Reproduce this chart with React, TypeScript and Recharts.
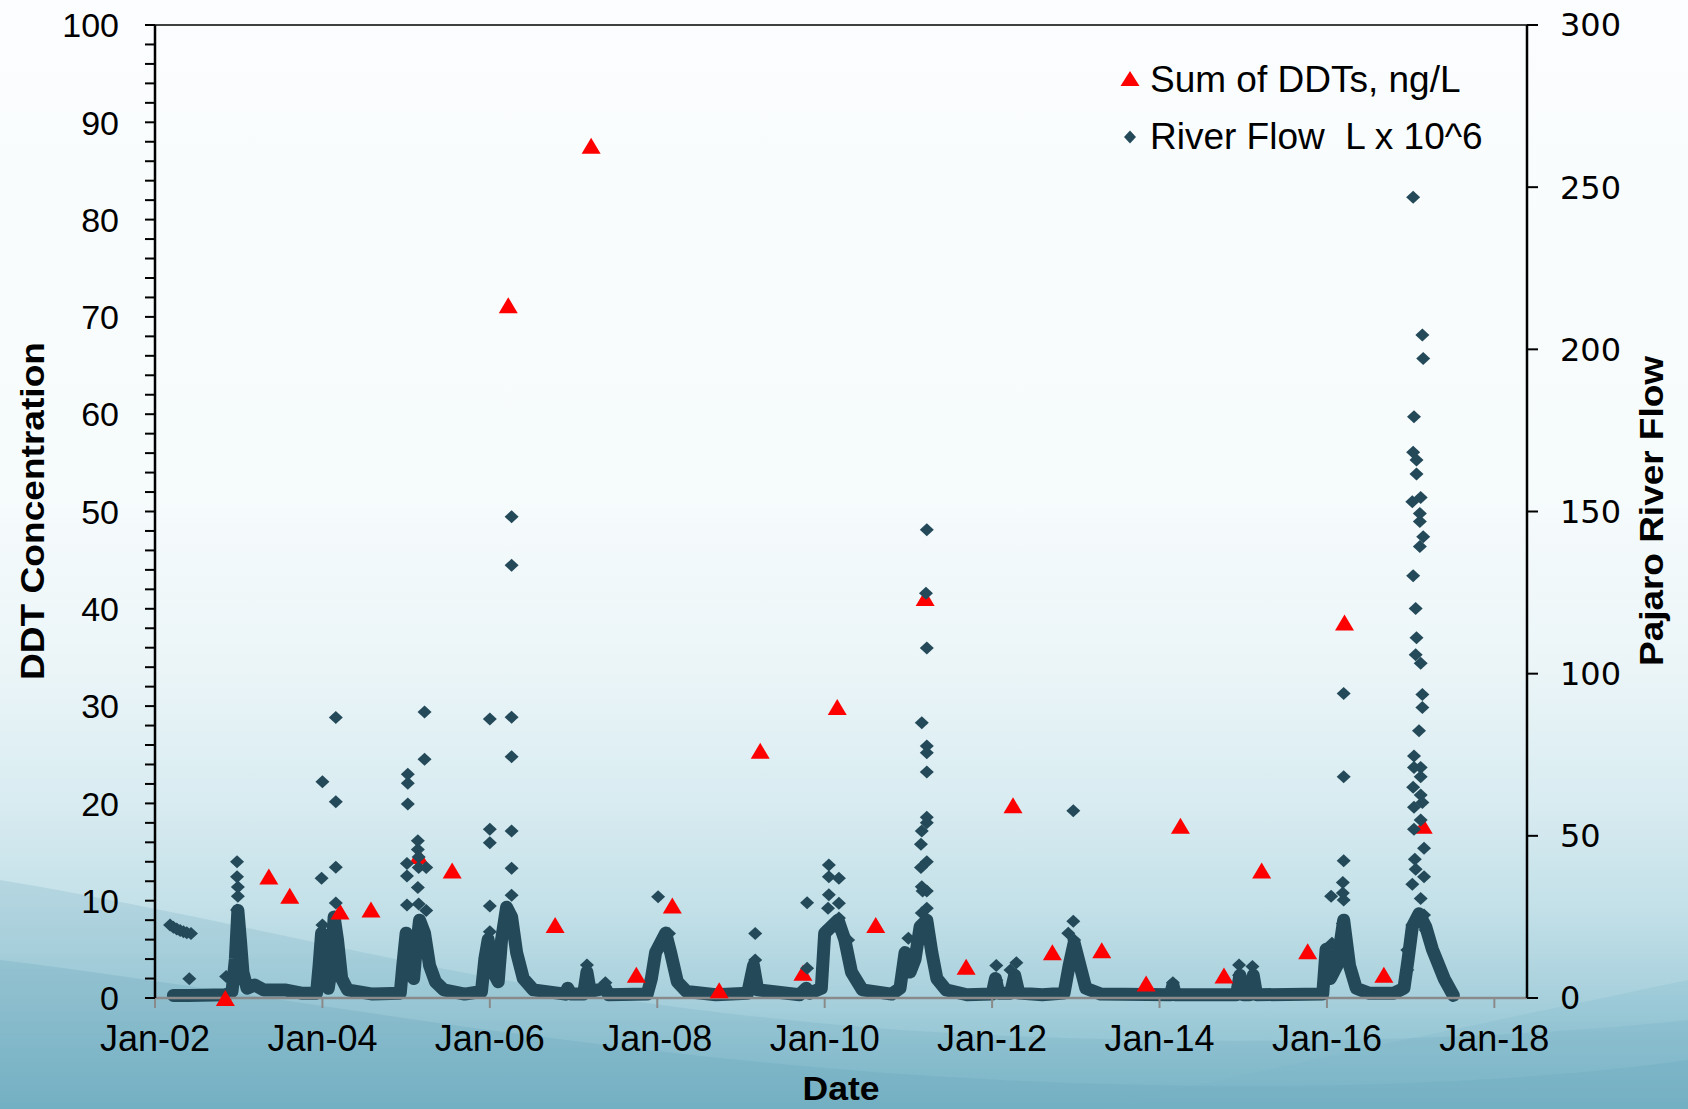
import {
  ComposedChart,
  Scatter,
  Line,
  XAxis,
  YAxis,
  ReferenceLine,
  Label,
} from "recharts";

// x values are decimal years (2002.0 = Jan-02)
const yearTicks = [2002, 2004, 2006, 2008, 2010, 2012, 2014, 2016, 2018];
const ddtTicks = [
  0, 2, 4, 6, 8, 10, 12, 14, 16, 18, 20, 22, 24, 26, 28, 30, 32, 34, 36, 38, 40,
  42, 44, 46, 48, 50, 52, 54, 56, 58, 60, 62, 64, 66, 68, 70, 72, 74, 76, 78, 80,
  82, 84, 86, 88, 90, 92, 94, 96, 98, 100,
];
const flowTicks = [0, 50, 100, 150, 200, 250, 300];

// Sum of DDTs, ng/L (left axis)
const ddtYears = [
  2002.84, 2003.36, 2003.61, 2004.21, 2004.58, 2005.15, 2005.55, 2006.22,
  2006.78, 2007.21, 2007.75, 2008.18, 2008.74, 2009.23, 2009.74, 2010.15,
  2010.61, 2011.2, 2011.69, 2012.25, 2012.72, 2013.31, 2013.84, 2014.25,
  2014.77, 2015.22, 2015.77, 2016.21, 2016.68, 2017.15,
];
const ddtValues = [
  0, 12.5, 10.5, 8.9, 9.1, 14.6, 13.1, 71.2, 7.5, 87.6, 2.4, 9.5, 0.8, 25.4, 2.6,
  29.9, 7.5, 41.1, 3.2, 19.8, 4.7, 4.9, 1.5, 17.7, 2.3, 13.1, 4.8, 38.6, 2.4,
  17.7,
];

// River flow, dense daily band near the baseline (right axis)
const flowBand: [number, number][] = [
  [2002.22, 0.8], [2002.4, 0.8], [2002.85, 1.0], [2002.92, 2], [2002.96, 12],
  [2002.99, 27], [2003.02, 18], [2003.05, 8], [2003.1, 3], [2003.19, 4],
  [2003.3, 2.5], [2003.55, 2.5], [2003.75, 1.5], [2003.93, 1.5], [2003.96, 10],
  [2003.99, 20], [2004.03, 15], [2004.07, 3], [2004.1, 8], [2004.14, 25],
  [2004.18, 18], [2004.23, 6], [2004.3, 2.5], [2004.6, 1.2], [2004.93, 1.5],
  [2004.96, 10], [2005.0, 20], [2005.05, 12], [2005.09, 6], [2005.12, 15],
  [2005.16, 24], [2005.22, 20], [2005.28, 10], [2005.35, 5], [2005.45, 2.5],
  [2005.7, 1.2], [2005.9, 2], [2005.94, 12], [2005.98, 18], [2006.04, 8],
  [2006.1, 5], [2006.14, 18], [2006.2, 28], [2006.26, 25], [2006.32, 14],
  [2006.4, 6], [2006.52, 2.5], [2006.9, 1.2], [2006.93, 3], [2006.97, 1.2],
  [2007.12, 1.2], [2007.16, 8], [2007.2, 2], [2007.38, 3], [2007.42, 1],
  [2007.88, 1.2], [2007.93, 6], [2007.98, 14], [2008.1, 20], [2008.16, 14],
  [2008.24, 5], [2008.35, 2], [2008.7, 1], [2009.08, 1.5], [2009.15, 10],
  [2009.2, 2.5], [2009.7, 1], [2009.78, 3], [2009.82, 1.5], [2009.96, 3],
  [2010.0, 20], [2010.08, 22], [2010.16, 24], [2010.24, 18], [2010.32, 8],
  [2010.45, 2.5], [2010.8, 1.2], [2010.9, 3], [2010.96, 14], [2011.02, 8],
  [2011.08, 12], [2011.14, 22], [2011.22, 24], [2011.28, 14], [2011.34, 6],
  [2011.45, 2.5], [2011.7, 1], [2012.0, 1.2], [2012.04, 6], [2012.08, 1.5],
  [2012.22, 1.5], [2012.27, 7], [2012.32, 1.5], [2012.6, 1], [2012.86, 1.5],
  [2012.92, 10], [2012.98, 17], [2013.05, 10], [2013.12, 3], [2013.3, 1.2],
  [2014.13, 1], [2014.16, 4], [2014.19, 1], [2014.92, 1], [2014.96, 7],
  [2015.0, 1], [2015.08, 1], [2015.12, 7], [2015.16, 1], [2015.95, 1.2],
  [2015.99, 15], [2016.04, 6], [2016.12, 10], [2016.2, 24], [2016.27, 10],
  [2016.35, 3], [2016.5, 1.5], [2016.8, 1.5], [2016.92, 3], [2016.97, 12],
  [2017.02, 22], [2017.1, 26], [2017.18, 22], [2017.26, 15], [2017.4, 6],
  [2017.51, 0.8],
];

// River flow, separate high days per wet season
const flow2002: [number, number][] = [
  [2002.18, 22.5], [2002.22, 21.8], [2002.26, 21.3], [2002.3, 20.8],
  [2002.34, 20.4], [2002.38, 20.1], [2002.43, 19.9], [2002.41, 5.9],
  [2002.85, 6.6],
];
const flow2003: [number, number][] = [
  [2002.98, 42.0], [2002.98, 37.4], [2002.99, 34.2], [2002.99, 31.4],
  [2002.98, 27.1],
];
const flow2004: [number, number][] = [
  [2004.0, 66.7], [2003.99, 36.9], [2004.0, 22.5], [2004.0, 17.4],
  [2004.16, 86.5], [2004.16, 60.5], [2004.16, 40.3], [2004.16, 29.3],
];
const flow2005: [number, number][] = [
  [2005.02, 69.0], [2005.02, 66.2], [2005.02, 59.8], [2005.01, 41.5],
  [2005.01, 37.6], [2005.01, 28.7], [2005.22, 88.2], [2005.22, 73.6],
  [2005.14, 48.5], [2005.14, 45.8], [2005.15, 43.5], [2005.15, 40.2],
  [2005.24, 40.2], [2005.14, 34.1], [2005.15, 29.0], [2005.24, 27.0],
];
const flow2006: [number, number][] = [
  [2006.0, 86.0], [2006.0, 52.0], [2006.0, 47.9], [2006.0, 28.4],
  [2006.0, 20.4], [2006.26, 148.4], [2006.26, 133.4], [2006.26, 86.6],
  [2006.26, 74.4], [2006.26, 51.5], [2006.26, 40.0], [2006.26, 31.7],
];
const flow2008: [number, number][] = [
  [2007.16, 10.2], [2007.38, 4.7], [2008.01, 31.2], [2008.14, 19.9],
  [2008.01, 14.8], [2009.17, 19.9], [2009.17, 11.7], [2009.79, 29.4],
  [2009.79, 9.2],
];
const flow2010: [number, number][] = [
  [2010.05, 41.0], [2010.05, 37.4], [2010.17, 36.9], [2010.05, 31.8],
  [2010.17, 29.2], [2010.04, 27.7], [2010.17, 24.7], [2010.06, 22.0],
  [2010.18, 21.0], [2010.28, 17.9],
];
const flow2011: [number, number][] = [
  [2011.22, 144.4], [2011.21, 124.8], [2011.22, 107.9], [2011.16, 84.9],
  [2011.22, 77.7], [2011.22, 75.6], [2011.22, 69.7], [2011.22, 55.7],
  [2011.22, 54.0], [2011.16, 51.5], [2011.15, 47.4], [2011.22, 42.0],
  [2011.15, 40.2], [2011.16, 34.3], [2011.22, 33.0], [2011.17, 33.0],
  [2011.22, 27.7], [2011.16, 26.2], [2011.22, 23.0], [2011.0, 18.4],
];
const flow2013: [number, number][] = [
  [2012.05, 10.0], [2012.05, 5.5], [2012.29, 10.9], [2012.22, 8.6],
  [2012.97, 57.7], [2012.97, 23.7], [2012.91, 20.0], [2012.98, 17.9],
  [2014.16, 4.7], [2014.95, 10.2], [2015.11, 9.7], [2014.95, 7.0],
  [2015.11, 6.5],
];
const flow2016: [number, number][] = [
  [2016.2, 93.9], [2016.2, 68.2], [2016.2, 42.3], [2016.19, 35.6],
  [2016.05, 31.4], [2016.19, 32.4], [2016.2, 30.2], [2016.19, 23.0],
  [2016.06, 16.9], [2016.2, 18.0],
];
const flow2017: [number, number][] = [
  [2017.03, 246.9], [2017.14, 204.4], [2017.15, 197.2], [2017.04, 179.2],
  [2017.03, 168.3], [2017.07, 165.9], [2017.07, 161.6], [2017.02, 153.0],
  [2017.12, 154.3], [2017.11, 149.4], [2017.11, 146.9], [2017.15, 142.2],
  [2017.11, 139.2], [2017.03, 130.2], [2017.06, 120.1], [2017.07, 111.1],
  [2017.06, 105.8], [2017.12, 103.2], [2017.14, 93.6], [2017.14, 89.6],
  [2017.1, 82.4], [2017.04, 74.6], [2017.12, 71.1], [2017.04, 71.1],
  [2017.12, 68.2], [2017.03, 65.0], [2017.12, 62.6], [2017.14, 60.3],
  [2017.04, 58.8], [2017.12, 54.9], [2017.04, 52.0], [2017.16, 46.2],
  [2017.05, 42.8], [2017.06, 39.7], [2017.16, 37.4], [2017.02, 35.1],
  [2017.12, 30.7], [2017.16, 25.6], [2017.02, 22.5], [2017.18, 21.0],
  [2016.96, 14.8], [2016.96, 8.6],
];

const ddtData = ddtYears.map((x, i) => ({ x, y: ddtValues[i] }));
const bandData = flowBand.map(([x, y]) => ({ x, y }));
const flowData = [
  ...flow2002, ...flow2003, ...flow2004, ...flow2005, ...flow2006,
  ...flow2008, ...flow2010, ...flow2011, ...flow2013, ...flow2016, ...flow2017,
].map(([x, y]) => ({ x, y }));

const FLOW = "#244a5a";
const RED = "#ff0000";
const FONT = "'Liberation Sans', Arial, sans-serif";

const Triangle = (p: any) => {
  const { cx, cy } = p;
  return (
    <path
      d={`M${cx},${cy - 8}L${cx + 9.5},${cy + 8}L${cx - 9.5},${cy + 8}Z`}
      fill={RED}
    />
  );
};

const Diamond = (p: any) => {
  const { cx, cy } = p;
  return (
    <path
      d={`M${cx},${cy - 6.5}L${cx + 7},${cy}L${cx},${cy + 6.5}L${cx - 7},${cy}Z`}
      fill={FLOW}
    />
  );
};

const LeftTick = (p: any) => {
  const v = p.payload.value;
  if (v % 10 !== 0) return null;
  return (
    <text x={p.x} y={p.y} dy="0.36em" textAnchor="end" fontSize={34} fontFamily={FONT} fill="#000">
      {v}
    </text>
  );
};

const Title = ({ x, y, text, len, rotate }: any) => (
  <text
    x={x}
    y={y}
    transform={rotate ? `rotate(${rotate} ${x} ${y})` : undefined}
    textAnchor="middle"
    dominantBaseline="central"
    fontFamily={FONT}
    fontWeight="bold"
    fontSize={34}
    textLength={len}
    lengthAdjust="spacingAndGlyphs"
    fill="#000"
  >
    {text}
  </text>
);

export default function App() {
  return (
    <div
      style={{
        position: "absolute",
        left: 0,
        top: 0,
        width: 1688,
        height: 1109,
        overflow: "hidden",
        background:
          "linear-gradient(to bottom, #fbfdfe 0%, #f6fbfc 45%, #ebf5f8 60%, #d9ecf1 72%, #c3e0e8 82%, #a7d0dc 90%, #7cb7c8 100%)",
      }}
    >
      <svg width={1688} height={1109} style={{ position: "absolute", left: 0, top: 0 }}>
        <path d="M0,880 C300,930 500,1000 900,1030 C1200,1050 1500,1040 1688,1020 L1688,1109 L0,1109 Z" fill="rgba(110,170,190,0.22)" />
        <path d="M0,960 C250,990 600,1060 1000,1080 C1300,1095 1550,1080 1688,1060 L1688,1109 L0,1109 Z" fill="rgba(100,165,185,0.25)" />
        <path d="M1100,1109 C1300,1060 1500,1020 1688,980 L1688,1109 Z" fill="rgba(120,180,198,0.2)" />
      </svg>
      <div style={{ position: "absolute", left: 0, top: 0 }}>
        <ComposedChart width={1688} height={1109} margin={{ top: 25, right: 0, bottom: 0, left: 0 }}>
          <XAxis
            dataKey="x"
            type="number"
            domain={[2002, 2018.39]}
            ticks={yearTicks}
            tickFormatter={(v: number) => "Jan-" + String(v).slice(2)}
            height={111}
            axisLine={{ stroke: "#8a8a8a", strokeWidth: 2.5 }}
            tickLine={{ stroke: "#8a8a8a", strokeWidth: 2 }}
            tickSize={10}
            tickMargin={17}
            tick={{ fontSize: 36, fontFamily: FONT, fill: "#000" }}
            interval={0}
          >
            <Label content={() => <Title x={841} y={1088} text="Date" len={77} />} />
          </XAxis>
          <YAxis
            yAxisId="left"
            orientation="left"
            type="number"
            domain={[0, 100]}
            ticks={ddtTicks}
            width={155}
            axisLine={{ stroke: "#000", strokeWidth: 2.5 }}
            tickLine={{ stroke: "#000", strokeWidth: 2 }}
            tickSize={10}
            tickMargin={26}
            tick={<LeftTick />}
            interval={0}
          >
            <Label content={() => <Title x={32} y={511} text="DDT Concentration" len={338} rotate={-90} />} />
          </YAxis>
          <YAxis
            yAxisId="right"
            orientation="right"
            type="number"
            domain={[0, 300]}
            ticks={flowTicks}
            width={161}
            axisLine={{ stroke: "#000", strokeWidth: 2.5 }}
            tickLine={{ stroke: "#000", strokeWidth: 2 }}
            tickSize={11}
            tickMargin={22}
            tick={{ fontSize: 32, fontFamily: "'DejaVu Sans', Verdana, sans-serif", fill: "#000" }}
            interval={0}
          >
            <Label content={() => <Title x={1651} y={511} text="Pajaro River Flow" len={310} rotate={-90} />} />
          </YAxis>
          <ReferenceLine yAxisId="left" y={100} stroke="#000" strokeWidth={1.5} />
          <Scatter
            name="Sum of DDTs, ng/L"
            yAxisId="left"
            data={ddtData}
            dataKey="y"
            shape={Triangle}
            isAnimationActive={false}
          />
          <Line
            yAxisId="right"
            data={bandData}
            dataKey="y"
            type="linear"
            stroke={FLOW}
            strokeWidth={13}
            strokeLinejoin="round"
            strokeLinecap="round"
            dot={false}
            activeDot={false}
            legendType="none"
            isAnimationActive={false}
          />
          <Scatter
            name="River Flow  L x 10^6"
            yAxisId="right"
            data={flowData}
            dataKey="y"
            shape={Diamond}
            isAnimationActive={false}
          />
        </ComposedChart>
      </div>
      <div
        style={{
          position: "absolute",
          left: 1116,
          top: 51,
          fontFamily: FONT,
          fontSize: 37,
          color: "#000",
          whiteSpace: "pre",
          lineHeight: "57px",
        }}
      >
        <div style={{ display: "flex", alignItems: "center" }}>
          <svg width={34} height={30}>
            <path d="M14,6L23.5,21L4.5,21Z" fill={RED} />
          </svg>
          <span>Sum of DDTs, ng/L</span>
        </div>
        <div style={{ display: "flex", alignItems: "center" }}>
          <svg width={34} height={30}>
            <path d="M14,8.5L20,15L14,21.5L8,15Z" fill={FLOW} />
          </svg>
          <span>River Flow  L x 10^6</span>
        </div>
      </div>
    </div>
  );
}
